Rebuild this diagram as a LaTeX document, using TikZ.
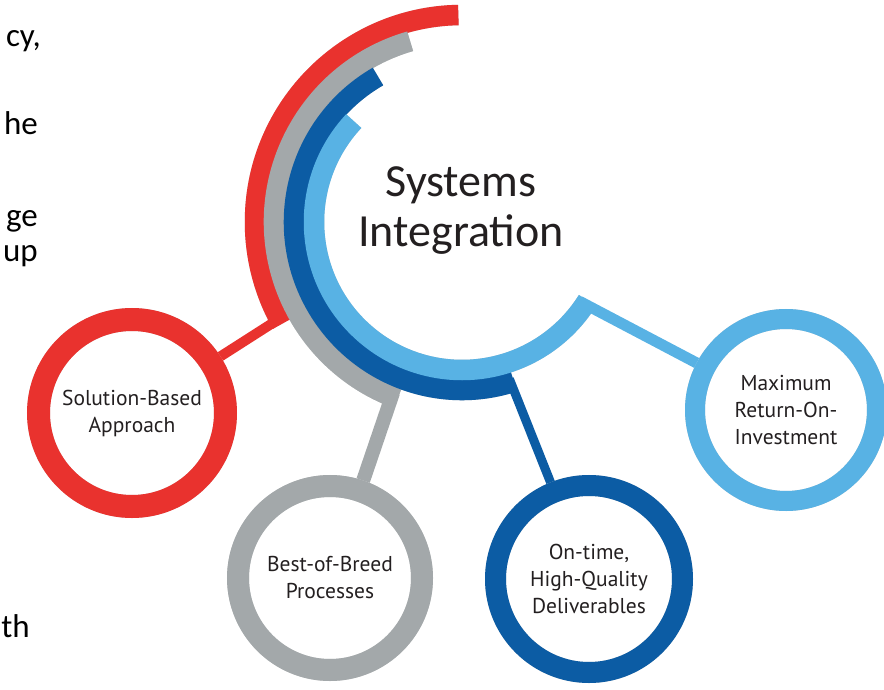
\documentclass[tikz,border=0pt]{standalone}
\usepackage{fontspec}
\setmainfont{Carlito}
\newfontfamily\labelfont{PT Sans}
\definecolor{solred}{RGB}{233,50,46}
\definecolor{breedgray}{RGB}{163,168,170}
\definecolor{timeblue}{RGB}{12,92,164}
\definecolor{roiblue}{RGB}{88,178,228}
\definecolor{ink}{RGB}{35,31,32}
\begin{document}
\begin{tikzpicture}[x=1pt,y=1pt]
            \tikzstyle{ring}=[circle,inner sep=0pt,align=center,text=ink,font=\labelfont\fontsize{21.5}{27}\selectfont]
            \tikzset{band/.style = {line width=20.5pt}, shade/.style = {black,opacity=.09}}
            \tikzstyle{frag}=[inner sep=0pt,anchor=base east,text=black,font=\fontsize{33}{38}\selectfont]
            \useasboundingbox (0,0) rectangle (884,-690);
            \coordinate (hub) at (462,-222);
            \coordinate (csol) at (132,-413);
            \coordinate (cbreed) at (330,-578);
            \coordinate (ctime) at (589,-579);
            \coordinate (croi) at (786,-410);
            % soft shadows
            \begin{scope}[shift={(2,-3)},shade]
            \draw[band] ([shift={(91:207pt)}]hub) arc[start angle=91,end angle=209.5,radius=207pt];
            \draw[band] ([shift={(106:188pt)}]hub) arc[start angle=106,end angle=250,radius=188pt];
            \draw[band] ([shift={(120:168pt)}]hub) arc[start angle=120,end angle=288,radius=168pt];
            \draw[band] ([shift={(137:148pt)}]hub) arc[start angle=137,end angle=328,radius=148pt];
            \draw[line width=23pt] (csol) circle[radius=93.5pt];
            \draw[line width=22pt] (cbreed) circle[radius=92pt];
            \draw[line width=21pt] (ctime) circle[radius=93.5pt];
            \draw[line width=20pt] (croi) circle[radius=91pt];
            \end{scope}
            \begin{scope}[shift={(4,-6)},shade]
            \draw[band] ([shift={(91:207pt)}]hub) arc[start angle=91,end angle=209.5,radius=207pt];
            \draw[band] ([shift={(106:188pt)}]hub) arc[start angle=106,end angle=250,radius=188pt];
            \draw[band] ([shift={(120:168pt)}]hub) arc[start angle=120,end angle=288,radius=168pt];
            \draw[band] ([shift={(137:148pt)}]hub) arc[start angle=137,end angle=328,radius=148pt];
            \draw[line width=23pt] (csol) circle[radius=93.5pt];
            \draw[line width=22pt] (cbreed) circle[radius=92pt];
            \draw[line width=21pt] (ctime) circle[radius=93.5pt];
            \draw[line width=20pt] (croi) circle[radius=91pt];
            \end{scope}
            % arcs round the title
            \draw[band,solred] ([shift={(91:207pt)}]hub) arc[start angle=91,end angle=209.5,radius=207pt];
            \draw[band,breedgray] ([shift={(106:188pt)}]hub) arc[start angle=106,end angle=250,radius=188pt];
            \draw[band,timeblue] ([shift={(120:168pt)}]hub) arc[start angle=120,end angle=288,radius=168pt];
            \draw[band,roiblue] ([shift={(137:148pt)}]hub) arc[start angle=137,end angle=328,radius=148pt];
            \coordinate (solend) at ([shift={(207.8:202pt)}]hub);
            \coordinate (breedend) at ([shift={(248:184pt)}]hub);
            \coordinate (timeend) at ([shift={(286.8:164pt)}]hub);
            \coordinate (roiend) at ([shift={(326:142pt)}]hub);
            \node[text=ink,align=center,font=\fontsize{46}{50}\selectfont] (title) at (461,-211) {Systems\\Integration};
            \node[ring,draw=solred,line width=23pt,minimum size=187pt] (sol) at (csol) {Solution-Based\\Approach};
            \node[ring,draw=breedgray,line width=22pt,minimum size=184pt] (breed) at (cbreed) {Best-of-Breed\\Processes};
            \node[ring,draw=timeblue,line width=21pt,minimum size=187pt] (time) at (ctime) {On-time,\\High-Quality\\Deliverables};
            \node[ring,draw=roiblue,line width=20pt,minimum size=182pt] (roi) at (croi) {Maximum\\Return-On-\\Investment};
            \draw[solred,line width=10pt] (sol) -- (solend);
            \draw[breedgray,line width=14pt] (breed) -- (breedend);
            \draw[timeblue,line width=9pt] (time) -- (timeend);
            \draw[roiblue,line width=11pt] (roi) -- (roiend);
            % cut-off text at the left edge
            \node[frag] (t1) at (41,-47) {cy,};
            \node[frag] (t2) at (38,-135) {he};
            \node[frag] (t3) at (38,-226) {ge};
            \node[frag] (t4) at (38,-261) {up};
            \node[frag] (t5) at (30,-637) {th};
\end{tikzpicture}
\end{document}
